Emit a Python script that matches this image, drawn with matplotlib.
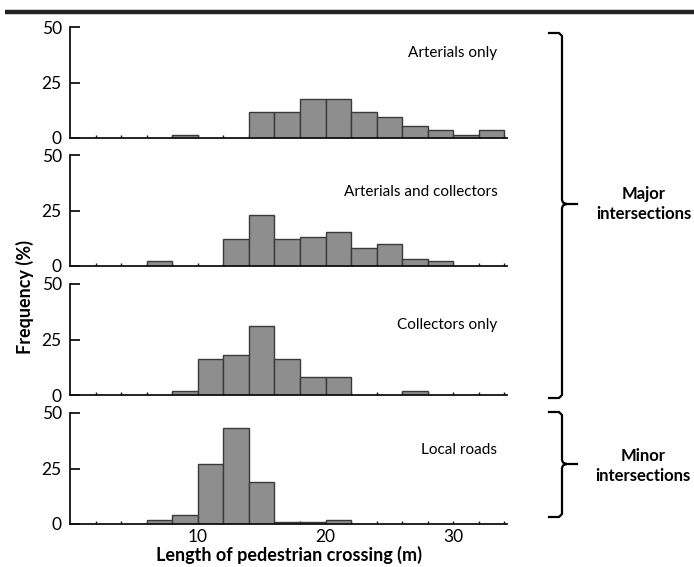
import matplotlib
matplotlib.use("Agg")
import matplotlib.pyplot as plt
import numpy as np

plt.rcParams['font.family'] = ['Lato', 'DejaVu Sans']

# bin edges (m), width 2
bin_left = np.arange(0, 34, 2)

# frequency (%) per bin: 0-2, 2-4, ..., 32-34
arterials = [0, 0, 0, 0, 1.5, 0, 0, 11.6, 11.6, 17.7, 17.7, 11.6, 9.5, 5.6, 3.5, 1.5, 3.5]
art_coll = [0, 0, 0, 2.2, 0, 0, 12.2, 23.1, 12.2, 13.2, 15.2, 8.1, 10.1, 3.2, 2.2, 0, 0]
collectors = [0, 0, 0, 0, 2.0, 16.1, 18.0, 30.9, 16.0, 8.1, 8.1, 0, 0, 2.0, 0, 0, 0]
local = [0, 0, 0, 1.8, 3.9, 27.1, 43.2, 19.1, 0.9, 0.9, 1.8, 0, 0, 0, 0, 0, 0]

series = [arterials, art_coll, collectors, local]
names = ["Arterials only", "Arterials and collectors", "Collectors only", "Local roads"]
label_y = [38.3, 33.3, 31.5, 33.3]

yticks = [0, 25, 50]
xticks = list(range(2, 35, 2))
xticklabels = [str(t) if t % 10 == 0 else "" for t in xticks]

W, H = 694, 567
fig = plt.figure(figsize=(W / 100, H / 100), dpi=100)

# panel top (value 50) and bottom (value 0) in pixels
tops = [27, 155, 284, 413]
bottoms = [138, 266, 395, 524]
left_px, right_px = 70, 507

for i in range(4):
    ax = fig.add_axes([left_px / W, 1 - bottoms[i] / H,
                       (right_px - left_px) / W, (bottoms[i] - tops[i]) / H])
    vals = np.array(series[i])
    keep = vals > 0
    ax.bar(bin_left[keep], vals[keep], width=2, align='edge',
           color='#8e8e8e', edgecolor='#3a3a3a', linewidth=1.0, zorder=2)
    ax.set_xlim(0, 34.2)
    ax.set_ylim(0, 50)
    ax.set_axisbelow(True)
    for s in ['top', 'right']:
        ax.spines[s].set_visible(False)
    for s in ['left', 'bottom']:
        ax.spines[s].set_linewidth(1.3)
        ax.spines[s].set_color('#111111')
        ax.spines[s].set_zorder(3)
    ax.set_yticks(yticks)
    ax.tick_params(axis='y', direction='in', length=7, width=1.3,
                   labelsize=12.5, pad=6, color='#111111')
    ax.set_xticks(xticks)
    ax.tick_params(axis='x', direction='in', length=2.5, width=1.0,
                   labelsize=12.5, color='#111111')
    if i < 3:
        ax.set_xticklabels([""] * len(xticks))
    else:
        ax.set_xticklabels(xticklabels)
        ax.set_xlabel("Length of pedestrian crossing (m)", fontsize=13,
                      fontweight='bold', labelpad=1)
    ax.text(0.978, label_y[i], names[i], transform=ax.get_yaxis_transform(),
            ha='right', va='center', fontsize=11)

# overlay in pixel coordinates for rule, brackets and group labels
ov = fig.add_axes([0, 0, 1, 1])
ov.set_xlim(0, W)
ov.set_ylim(H, 0)
ov.axis('off')
ov.patch.set_alpha(0)

ov.plot([5, W], [12, 12], color='#222222', linewidth=3.2, solid_capstyle='butt')


def bracket(y0, y1, ytip, x=562):
    k = 3
    lw = 1.6
    ov.plot([x - 13, x - k, x, x, x + 1, x + 4],
            [y0, y0, y0 + k, ytip - 4, ytip - 1.5, ytip], color='black',
            linewidth=lw, solid_joinstyle='round')
    ov.plot([x - 13, x - k, x, x, x + 1, x + 4],
            [y1, y1, y1 - k, ytip + 4, ytip + 1.5, ytip], color='black',
            linewidth=lw, solid_joinstyle='round')
    ov.plot([x + 4, x + 15], [ytip, ytip], color='black', linewidth=lw)


bracket(33, 398, 204)
bracket(412, 517, 464)

ov.text(644, 204, "Major\nintersections", ha='center', va='center',
        fontsize=12, fontweight='bold', linespacing=1.25)
ov.text(643, 466, "Minor\nintersections", ha='center', va='center',
        fontsize=12, fontweight='bold', linespacing=1.25)
ov.text(25, 297, "Frequency (%)", ha='center', va='center', rotation=90,
        fontsize=13, fontweight='bold')

fig.savefig("out.png", dpi=100)
